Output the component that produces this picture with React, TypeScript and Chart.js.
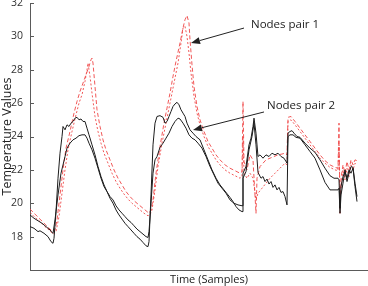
import React, { useEffect, useRef } from "react";
import { Chart, registerables } from "chart.js";

Chart.register(...registerables);

const FONT = "'Open Sans', 'Noto Sans', sans-serif";

const yMin = 16;
const yMax = 32;
const yStep = 2;
const hiddenYTick = 16;
const xMin = 0;
const xMax = 358;

const xTitle = "Time (Samples)";
const yTitle = "Temperature Values";

// Nodes pair 2 (black solid) — [sample, temperature]
const pair2A: [number, number][] = [
  [0, 18.6], [4, 18.5], [8, 18.3], [10, 18.35], [14, 18.2], [18, 18.0], [21, 17.7], [23, 17.6], [24, 17.9], [26, 19.5],
  [28, 21.5], [30, 23.0], [32, 24.0], [33, 24.6], [35, 24.4], [37, 24.7], [39, 24.6], [41, 24.8], [43, 24.9], [45, 25.1],
  [47, 25.15], [49, 25.0], [51, 25.05], [53, 24.9], [55, 24.9], [57, 24.5], [59, 24.1], [62, 23.5], [65, 22.9], [68, 22.2],
  [71, 21.6], [74, 21.1], [77, 20.7], [80, 20.3], [83, 20.0], [86, 19.6], [89, 19.3], [92, 19.05], [95, 18.8], [98, 18.6],
  [101, 18.4], [104, 18.2], [107, 18.0], [110, 17.85], [113, 17.65], [116, 17.45], [118, 17.4], [119, 17.7], [121, 20.5], [123, 23.5],
  [125, 24.8], [127, 25.2], [130, 25.25], [133, 25.15], [135, 24.8], [137, 24.9], [139, 25.2], [141, 25.5], [143, 25.8], [145, 25.95],
  [147, 26.05], [149, 25.9], [151, 25.6], [153, 25.4], [155, 25.2], [157, 24.8], [160, 24.4], [163, 24.2], [166, 24.0], [170, 23.8],
  [174, 23.2], [178, 22.6], [182, 22.0], [186, 21.5], [190, 21.1], [194, 20.8], [198, 20.5], [200, 20.35], [203, 20.1], [206, 19.8],
  [209, 19.6], [212, 19.5], [213, 21.8], [216, 22.2], [219, 23.5], [221, 23.9], [223, 24.6], [224, 25.1], [226, 24.2], [228, 22.8],
  [230, 22.9], [233, 22.7], [236, 22.9], [239, 22.8], [242, 23.0], [245, 22.9], [248, 23.0], [251, 22.8], [254, 22.7], [256, 22.5],
  [257, 22.4], [258, 24.2], [260, 24.3], [262, 24.35], [264, 24.2], [267, 24.0], [270, 23.95], [275, 23.6], [280, 23.3], [285, 23.05],
  [290, 22.6], [295, 22.1], [300, 21.65], [304, 21.5], [308, 21.5], [309, 21.4], [310, 19.7], [311, 21.0], [313, 21.6], [315, 21.9],
  [317, 21.5], [319, 22.0], [321, 21.8], [323, 22.1], [325, 21.0], [327, 20.1],
];

const pair2B: [number, number][] = [
  [0, 19.3], [4, 19.1], [8, 18.95], [12, 18.8], [16, 18.6], [20, 18.4], [22, 18.25], [23, 18.2], [25, 19.0], [28, 20.5],
  [31, 21.8], [33, 22.3], [35, 22.8], [37, 23.3], [40, 23.6], [43, 23.8], [46, 23.9], [49, 24.05], [52, 24.1], [55, 24.1],
  [57, 23.9], [59, 23.6], [62, 23.2], [65, 22.7], [68, 22.1], [71, 21.5], [74, 21.0], [77, 20.7], [80, 20.4], [83, 20.2],
  [86, 19.85], [89, 19.6], [92, 19.4], [95, 19.2], [98, 19.0], [101, 18.85], [104, 18.65], [107, 18.45], [110, 18.3], [113, 18.15],
  [116, 18.0], [118, 17.95], [119, 18.3], [121, 20.0], [123, 21.8], [125, 22.6], [127, 22.8], [130, 23.35], [133, 23.6], [136, 23.9],
  [139, 24.2], [142, 24.6], [145, 24.9], [148, 25.1], [150, 25.05], [153, 24.8], [156, 24.5], [159, 24.1], [162, 23.9], [165, 23.8],
  [168, 23.6], [172, 23.3], [176, 22.8], [180, 22.2], [184, 21.7], [188, 21.2], [192, 20.9], [196, 20.6], [200, 20.2], [204, 20.0],
  [208, 19.9], [212, 19.85], [213, 21.5], [216, 21.9], [219, 23.2], [222, 24.0], [224, 24.8], [226, 23.5], [228, 21.85], [231, 21.5],
  [233, 21.6], [235, 21.3], [237, 21.45], [239, 21.15], [241, 21.3], [243, 20.95], [245, 21.1], [247, 20.8], [249, 20.95], [251, 20.65],
  [253, 20.7], [255, 20.4], [257, 19.9], [258, 24.0], [260, 24.1], [263, 24.1], [266, 23.95], [270, 23.9], [275, 23.5], [280, 23.1],
  [285, 22.7], [290, 22.0], [295, 21.25], [300, 20.8], [304, 20.8], [308, 20.8], [309, 20.9], [310, 19.4], [311, 20.5], [313, 21.2],
  [315, 22.0], [317, 21.3], [319, 21.8], [321, 22.2], [323, 22.15], [325, 21.2], [327, 20.4],
];

// Nodes pair 1 (red dashed) — [sample, temperature]
const pair1A: [number, number][] = [
  [0, 19.65], [5, 19.35], [10, 19.05], [15, 18.75], [20, 18.45], [23, 18.3], [25, 18.4], [27, 19.0], [30, 20.5], [33, 22.0],
  [36, 23.3], [40, 24.3], [44, 25.4], [47, 26.1], [50, 26.7], [53, 27.2], [56, 27.7], [59, 28.2], [61, 28.6], [62, 28.7],
  [63, 28.4], [65, 27.0], [67, 25.6], [70, 24.6], [73, 23.8], [76, 23.2], [80, 22.6], [84, 22.0], [88, 21.5], [92, 21.1],
  [96, 20.7], [100, 20.4], [104, 20.15], [108, 19.95], [112, 19.75], [116, 19.55], [119, 19.4], [121, 19.6], [123, 20.2], [126, 21.8],
  [130, 23.4], [134, 24.8], [137, 25.7], [140, 26.6], [143, 27.6], [146, 28.5], [150, 29.6], [153, 30.5], [155, 31.0], [157, 31.25],
  [159, 30.8], [160, 29.8], [162, 28.3], [164, 27.0], [167, 25.8], [170, 25.0], [174, 24.3], [178, 23.7], [182, 23.3], [186, 22.9],
  [190, 22.6], [195, 22.3], [200, 22.1], [205, 21.95], [210, 21.8], [212, 21.9], [213, 26.1], [214, 22.5], [217, 22.0], [220, 22.9],
  [223, 22.6], [226, 19.4], [227, 21.5], [230, 22.2], [233, 22.4], [236, 22.6], [240, 22.7], [244, 22.8], [248, 22.9], [252, 22.95],
  [255, 23.0], [257, 22.9], [258, 25.15], [261, 25.2], [265, 24.9], [270, 24.5], [275, 24.1], [280, 23.7], [285, 23.3], [290, 22.9],
  [295, 22.55], [300, 22.3], [305, 22.15], [308, 22.1], [309, 24.8], [310, 19.4], [311, 21.5], [313, 22.3], [315, 21.8], [317, 22.5],
  [319, 22.0], [321, 22.6], [323, 22.3], [325, 22.6], [327, 22.55],
];

const pair1B: [number, number][] = [
  [0, 19.45], [5, 19.15], [10, 18.9], [15, 18.6], [20, 18.35], [23, 18.15], [26, 18.3], [29, 19.2], [32, 20.6], [35, 22.0],
  [38, 23.2], [42, 24.3], [46, 25.3], [49, 26.0], [52, 26.5], [55, 27.3], [57, 28.0], [58, 28.4], [60, 27.6], [62, 26.6],
  [65, 25.2], [68, 24.3], [71, 23.6], [74, 23.0], [78, 22.4], [82, 21.8], [86, 21.3], [90, 20.9], [94, 20.55], [98, 20.25],
  [102, 20.0], [106, 19.8], [110, 19.6], [114, 19.4], [118, 19.25], [120, 19.3], [122, 19.6], [125, 20.8], [128, 22.2], [132, 23.6],
  [136, 24.8], [140, 26.0], [144, 27.2], [148, 28.4], [151, 29.6], [153, 30.5], [155, 30.6], [157, 30.0], [159, 29.0], [161, 27.8],
  [164, 26.4], [167, 25.4], [170, 24.7], [174, 24.0], [178, 23.4], [182, 23.0], [186, 22.6], [190, 22.3], [195, 22.0], [200, 21.8],
  [205, 21.65], [210, 21.5], [212, 21.6], [213, 24.0], [214, 21.8], [217, 21.5], [220, 21.8], [223, 21.5], [226, 20.2], [228, 20.6],
  [232, 20.9], [236, 21.2], [240, 21.5], [245, 21.8], [250, 22.1], [255, 22.4], [257, 22.3], [258, 24.9], [261, 25.0], [265, 24.7],
  [270, 24.3], [275, 23.9], [280, 23.5], [285, 23.1], [290, 22.7], [295, 22.4], [300, 22.15], [305, 22.0], [308, 21.95], [309, 23.5],
  [310, 20.2], [311, 21.0], [313, 22.0], [315, 21.4], [317, 22.1], [319, 21.6], [321, 22.3], [323, 22.0], [325, 22.4], [327, 22.3],
];

// Annotations (data coordinates)
const annotationTexts = ["Nodes pair 1", "Nodes pair 2"];
const annotationTextX = [221, 237];
const annotationTextY = [30.68, 25.83];
const arrowStartX = [214, 234];
const arrowStartY = [30.5, 25.47];
const arrowEndX = [161, 163];
const arrowEndY = [29.6, 24.39];

const BLACK = "#1c1c1c";
const RED = "rgba(240,70,70,0.9)";
const AXIS = "#5a5a5a";

const toPoints = (arr: [number, number][]) => arr.map(([x, y]) => ({ x, y }));

const overlay = {
  id: "overlay",
  afterDraw(chart: any) {
    const { ctx, chartArea, scales } = chart;
    const xs = scales.x;
    const ys = scales.y;
    ctx.save();
    ctx.strokeStyle = AXIS;
    ctx.lineWidth = 1;
    ys.ticks.forEach((t: any) => {
      if (t.value === hiddenYTick) return;
      const y = Math.round(ys.getPixelForValue(t.value)) + 0.5;
      ctx.beginPath();
      ctx.moveTo(chartArea.left, y);
      ctx.lineTo(chartArea.left + 4, y);
      ctx.stroke();
    });
    ctx.fillStyle = "#222";
    ctx.strokeStyle = "#222";
    ctx.font = `11.5px ${FONT}`;
    ctx.textBaseline = "middle";
    ctx.textAlign = "left";
    annotationTexts.forEach((txt, i) => {
      ctx.fillText(txt, xs.getPixelForValue(annotationTextX[i]), ys.getPixelForValue(annotationTextY[i]));
      const x0 = xs.getPixelForValue(arrowStartX[i]);
      const y0 = ys.getPixelForValue(arrowStartY[i]);
      const x1 = xs.getPixelForValue(arrowEndX[i]);
      const y1 = ys.getPixelForValue(arrowEndY[i]);
      const ang = Math.atan2(y1 - y0, x1 - x0);
      const headLen = 9;
      const headW = 3.5;
      const bx = x1 - headLen * Math.cos(ang);
      const by = y1 - headLen * Math.sin(ang);
      ctx.lineWidth = 1;
      ctx.beginPath();
      ctx.moveTo(x0, y0);
      ctx.lineTo(bx, by);
      ctx.stroke();
      ctx.beginPath();
      ctx.moveTo(x1, y1);
      ctx.lineTo(bx + headW * Math.sin(ang), by - headW * Math.cos(ang));
      ctx.lineTo(bx - headW * Math.sin(ang), by + headW * Math.cos(ang));
      ctx.closePath();
      ctx.fill();
    });
    ctx.restore();
  },
};

export default function App() {
  const ref = useRef<HTMLCanvasElement | null>(null);
  useEffect(() => {
    if (!ref.current) return;
    const line = (data: [number, number][], color: string, dash: number[]) => ({
      data: toPoints(data),
      borderColor: color,
      borderWidth: 1,
      borderDash: dash,
      pointRadius: 0,
      tension: 0,
      fill: false,
    });
    const chart = new Chart(ref.current, {
      type: "line",
      data: {
        datasets: [
          { label: "Nodes pair 2 A", ...line(pair2A, BLACK, []) },
          { label: "Nodes pair 2 B", ...line(pair2B, BLACK, []) },
          { label: "Nodes pair 1 A", ...line(pair1A, RED, [4, 2.5]) },
          { label: "Nodes pair 1 B", ...line(pair1B, RED, [2, 2]) },
        ],
      },
      options: {
        animation: false,
        responsive: false,
        devicePixelRatio: 1,
        layout: { padding: { top: 3, left: 0, right: 0, bottom: 0 } },
        plugins: { legend: { display: false }, tooltip: { enabled: false } },
        scales: {
          x: {
            type: "linear",
            min: xMin,
            max: xMax,
            grid: { display: false, drawTicks: false },
            border: { display: true, color: AXIS, width: 1 },
            ticks: { display: false },
            title: {
              display: true,
              text: xTitle,
              color: "#222",
              font: { family: FONT, size: 11 },
              padding: 0,
            },
            afterFit: (s: any) => {
              s.height = 16;
              s.paddingLeft = 0;
              s.paddingRight = 0;
            },
          },
          y: {
            type: "linear",
            min: yMin,
            max: yMax,
            grid: { display: false, drawTicks: false },
            border: { display: true, color: AXIS, width: 1 },
            ticks: {
              stepSize: yStep,
              color: "#333",
              padding: 7,
              font: { family: FONT, size: 10.5 },
              callback: (v: any) => (v === hiddenYTick ? "" : String(v)),
            },
            title: {
              display: true,
              text: yTitle,
              color: "#222",
              font: { family: FONT, size: 12.5 },
              padding: 0,
            },
            afterFit: (s: any) => {
              s.width = 30;
              s.paddingTop = 0;
              s.paddingBottom = 0;
            },
          },
        },
      },
      plugins: [overlay],
    });
    return () => chart.destroy();
  }, []);
  return (
    <div
      style={{
        position: "absolute",
        left: 0,
        top: 0,
        width: 368,
        height: 286,
        overflow: "hidden",
        background: "#fff",
      }}
    >
      <canvas ref={ref} width={388} height={286} style={{ display: "block" }} />
    </div>
  );
}
